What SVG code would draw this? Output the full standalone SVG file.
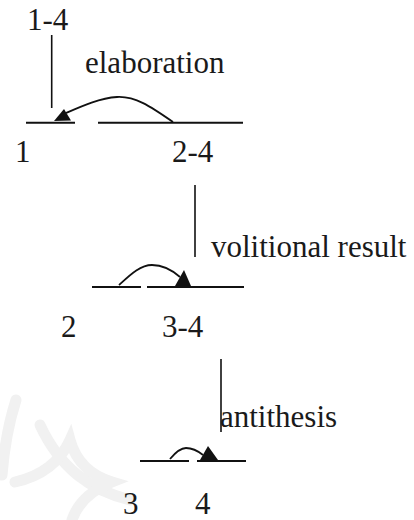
<svg xmlns="http://www.w3.org/2000/svg" width="414" height="520" viewBox="0 0 414 520">
<style>
text{font-family:"Liberation Serif","Times New Roman",serif;font-size:31px;fill:#1a1a1a}
.seg{stroke:#111;stroke-width:2;fill:none}
.vl{stroke:#111;stroke-width:1.6;fill:none}
.arc{stroke:#111;stroke-width:1.8;fill:none}
.head{fill:#111}
.wm{stroke:#f1f1f1;stroke-width:11;fill:none;stroke-linecap:round}
</style>
<g id="watermark">
<path class="wm" d="M16,400 C8,425 4,450 2,475"/>
<path class="wm" d="M40,425 C60,468 90,490 130,500"/>
<path class="wm" d="M15,482 C42,476 60,462 70,440 C76,462 92,476 112,482 C92,490 78,502 72,520"/>
</g>
<g id="node-1-4"><text x="27" y="30">1-4</text></g>
<g id="node-1"><line class="seg" x1="26" y1="122.7" x2="75" y2="122.7"/><text x="15" y="162">1</text></g>
<g id="node-2-4"><line class="seg" x1="98" y1="122.7" x2="243" y2="122.7"/><text x="172" y="162">2-4</text></g>
<g id="node-2"><line class="seg" x1="92" y1="287" x2="141" y2="287"/><text x="61" y="337">2</text></g>
<g id="node-3-4"><line class="seg" x1="147" y1="287" x2="244" y2="287"/><text x="162" y="337">3-4</text></g>
<g id="node-3"><line class="seg" x1="140" y1="461" x2="189" y2="461"/><text x="123" y="514">3</text></g>
<g id="node-4"><line class="seg" x1="197" y1="461" x2="246" y2="461"/><text x="195" y="514">4</text></g>
<g id="connectors">
<line class="vl" x1="51.7" y1="35" x2="51.7" y2="108"/>
<path class="arc" d="M173,122 C150,106 135,96 117,97 C100,98 82,106 66,113"/>
<polygon class="head" points="54,121 64,109 71,120.5"/>
<text x="85" y="73">elaboration</text>
<line class="vl" x1="195" y1="185" x2="195" y2="257"/>
<path class="arc" d="M119,285 C130,275 140,265 152,265 C163,265 172,270 180,277"/>
<polygon class="head" points="184,270 175,286 191,286"/>
<text x="211" y="257">volitional result</text>
<line class="vl" x1="221" y1="359" x2="221" y2="432"/>
<path class="arc" d="M170,459 C175,453 180,448 186,448 C192,448 198,451 203,455"/>
<polygon class="head" points="208,446 200,460 218,460"/>
<text x="220" y="427">antithesis</text>
</g>
</svg>
